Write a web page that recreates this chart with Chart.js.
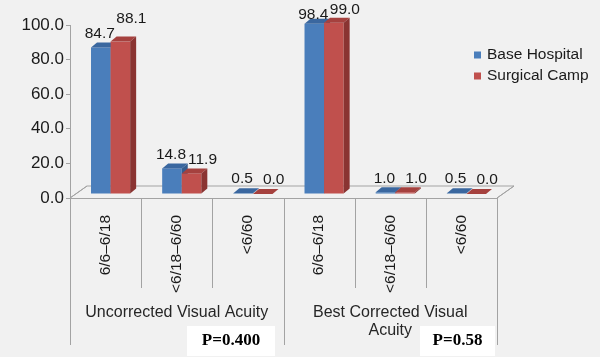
<!DOCTYPE html>
<html>
<head>
<meta charset="utf-8">
<script src="https://cdn.jsdelivr.net/npm/chart.js@4.4.1/dist/chart.umd.min.js"></script>
<style>
  html, body { margin: 0; padding: 0; background: #f1f1f1; }
  #chart { display: block; }
</style>
</head>
<body>
<canvas id="chart" width="600" height="357"></canvas>
<script>
// Visual acuity outcome: base hospital vs surgical camp (3D-style clustered bars)

// ── Data ──────────────────────────────────────────────────────────────────
const categories   = ['6/6–6/18', '<6/18–6/60', '<6/60', '6/6–6/18', '<6/18–6/60', '<6/60'];
const baseHospital = [84.7, 14.8, 0.5, 98.4, 1.0, 0.5];
const surgicalCamp = [88.1, 11.9, 0.0, 99.0, 1.0, 0.0];
const groupLabels  = [['Uncorrected Visual Acuity'], ['Best Corrected Visual', 'Acuity']];
const pValues      = ['P=0.400', 'P=0.58'];
const yTicks       = [0, 20, 40, 60, 80, 100];

// ── Style ─────────────────────────────────────────────────────────────────
const FONT      = '"Liberation Sans", Arial, sans-serif';
const TEXT      = '#1a1a1a';
const LINE      = '#a3a3a3';
const BAR_SHIFT = { x: 5, y: -4 };     // bars sit slightly back on the floor
const DEPTH     = { x: 6, y: -5 };     // bar extrusion
const FLOOR     = { x: 17, y: -12 };   // floor depth

const faces = [
  { front: '#4a7ebb', top: '#3a679f', side: '#355d8f' },
  { front: '#c0504d', top: '#a5413e', side: '#8a3432' },
];

function poly(ctx, pts, fill) {
  ctx.beginPath();
  ctx.moveTo(pts[0][0], pts[0][1]);
  for (let i = 1; i < pts.length; i++) ctx.lineTo(pts[i][0], pts[i][1]);
  ctx.closePath();
  ctx.fillStyle = fill;
  ctx.fill();
}

// category boundaries along the x axis
function boundaries(chart) {
  const xs = chart.scales.x;
  const out = [chart.chartArea.left];
  for (let i = 1; i < categories.length; i++) {
    out.push((xs.getPixelForValue(i - 1) + xs.getPixelForValue(i)) / 2);
  }
  out.push(chart.chartArea.right);
  return out;
}

// ── Plugin: floor, 3D bars, value labels ─────────────────────────────────
const bars3d = {
  id: 'bars3d',
  beforeDraw(chart) {
    const { ctx, width, height } = chart;
    ctx.save();
    ctx.fillStyle = '#f1f1f1';
    ctx.fillRect(0, 0, width, height);
    ctx.restore();
  },
  beforeDatasetsDraw(chart) {
    const { ctx, chartArea: a } = chart;
    const base = chart.scales.y.getPixelForValue(0);

    // floor
    ctx.save();
    ctx.beginPath();
    ctx.moveTo(a.left, base);
    ctx.lineTo(a.left + FLOOR.x, base + FLOOR.y);
    ctx.lineTo(a.right + FLOOR.x, base + FLOOR.y);
    ctx.lineTo(a.right, base);
    ctx.strokeStyle = LINE;
    ctx.lineWidth = 1;
    ctx.stroke();

    // bars, category by category so the red front hides the blue side
    const metas = [chart.getDatasetMeta(0), chart.getDatasetMeta(1)];
    for (let i = 0; i < categories.length; i++) {
      metas.forEach((meta, d) => {
        const p = meta.data[i].getProps(['x', 'y', 'base', 'width'], true);
        const l = p.x - p.width / 2 + BAR_SHIFT.x;
        const r = p.x + p.width / 2 + BAR_SHIFT.x;
        const t = p.y + BAR_SHIFT.y;
        const b = p.base + BAR_SHIFT.y;
        const f = faces[d];
        ctx.fillStyle = f.front;
        ctx.fillRect(l, t, r - l, b - t);
        poly(ctx, [[l, t], [l + DEPTH.x, t + DEPTH.y], [r + DEPTH.x, t + DEPTH.y], [r, t]], f.top);
        poly(ctx, [[r, t], [r + DEPTH.x, t + DEPTH.y], [r + DEPTH.x, b + DEPTH.y], [r, b]], f.side);
      });
    }

    // value labels; the red label steps up when it is the taller bar and the pair would collide
    ctx.font = '15.5px ' + FONT;
    ctx.fillStyle = TEXT;
    ctx.textAlign = 'center';
    ctx.textBaseline = 'middle';
    const nudge = [-4, 8];
    for (let i = 0; i < categories.length; i++) {
      const pos = metas.map((meta, d) => {
        const p = meta.data[i].getProps(['x', 'y'], true);
        const text = chart.data.datasets[d].data[i].toFixed(1);
        return {
          text,
          w: ctx.measureText(text).width,
          x: p.x + BAR_SHIFT.x + DEPTH.x / 2 + nudge[d],
          y: Math.max(p.y + BAR_SHIFT.y - 14, 15),
        };
      });
      const [bl, rd] = pos;
      const redTaller = surgicalCamp[i] > baseHospital[i];
      if (redTaller && rd.x - bl.x < (bl.w + rd.w) / 2 + 2 && Math.abs(rd.y - bl.y) < 14) {
        rd.y = Math.max(bl.y - 15, 10);
      }
      pos.forEach(o => ctx.fillText(o.text, o.x, o.y));
    }
    ctx.restore();
    return false;
  },
  afterDraw(chart) {
    const { ctx, chartArea: a } = chart;
    const base = chart.scales.y.getPixelForValue(0);
    const bx = boundaries(chart);

    ctx.save();
    // divider lines under the axis
    ctx.strokeStyle = LINE;
    ctx.lineWidth = 1;
    bx.forEach((x, i) => {
      const long = i % 3 === 0;
      ctx.beginPath();
      ctx.moveTo(Math.round(x) + 0.5, base);
      ctx.lineTo(Math.round(x) + 0.5, long ? 345 : 288);
      ctx.stroke();
    });
    // floor side edges
    ctx.beginPath();
    ctx.moveTo(a.left, base);
    ctx.lineTo(a.left + FLOOR.x, base + FLOOR.y);
    ctx.moveTo(a.right, base);
    ctx.lineTo(a.right + FLOOR.x, base + FLOOR.y);
    ctx.stroke();

    // group labels
    ctx.font = '16px ' + FONT;
    ctx.fillStyle = '#262626';
    ctx.textAlign = 'center';
    ctx.textBaseline = 'middle';
    groupLabels.forEach((lines, g) => {
      const cx = (bx[g * 3] + bx[g * 3 + 3]) / 2;
      lines.forEach((s, k) => ctx.fillText(s, cx, 313 + k * 18));
    });

    // p-value boxes
    const boxes = [{ x: 187, w: 88 }, { x: 420, w: 75 }];
    ctx.font = 'bold 17px "Liberation Serif", "Times New Roman", serif';
    pValues.forEach((s, g) => {
      const bxx = boxes[g];
      ctx.fillStyle = '#ffffff';
      ctx.fillRect(bxx.x, 326, bxx.w, 30);
      ctx.fillStyle = '#000000';
      ctx.fillText(s, bxx.x + bxx.w / 2, 341);
    });

    // legend
    ctx.font = '15.5px ' + FONT;
    ctx.textAlign = 'left';
    chart.data.datasets.forEach((ds, d) => {
      const y = 55 + d * 21;
      ctx.fillStyle = faces[d].front;
      ctx.fillRect(474, y - 3.5, 7, 7);
      ctx.fillStyle = TEXT;
      ctx.fillText(ds.label, 487, y);
    });
    ctx.restore();
  }
};

// ── Chart ─────────────────────────────────────────────────────────────────
new Chart(document.getElementById('chart').getContext('2d'), {
  type: 'bar',
  data: {
    labels: categories,
    datasets: [
      { label: 'Base Hospital', data: baseHospital, backgroundColor: faces[0].front },
      { label: 'Surgical Camp', data: surgicalCamp, backgroundColor: faces[1].front },
    ]
  },
  options: {
    responsive: false,
    animation: false,
    devicePixelRatio: 1,
    layout: { padding: { top: 25, right: 103, left: 0, bottom: 0 } },
    datasets: { bar: { categoryPercentage: 0.55, barPercentage: 1.0 } },
    plugins: { legend: { display: false }, tooltip: { enabled: false } },
    scales: {
      x: {
        afterFit: s => { s.height = 159; },
        grid: { display: false },
        border: { color: LINE },
        ticks: {
          autoSkip: false, minRotation: 90, maxRotation: 90, padding: 9,
          color: TEXT, font: { family: FONT, size: 15.5 }
        }
      },
      y: {
        min: 0, max: 100,
        afterFit: s => { s.width = 70; },
        afterBuildTicks: s => { s.ticks = yTicks.map(v => ({ value: v })); },
        grid: { drawOnChartArea: false, drawTicks: true, tickLength: 4, color: LINE },
        border: { color: LINE },
        ticks: {
          padding: 2, color: TEXT, font: { family: FONT, size: 17 },
          callback: v => v.toFixed(1)
        }
      }
    }
  },
  plugins: [bars3d]
});
</script>
</body>
</html>
